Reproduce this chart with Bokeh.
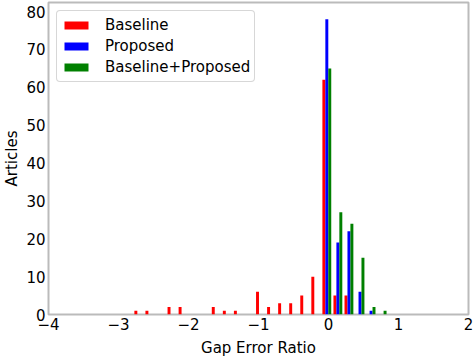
from bokeh.plotting import figure
from bokeh.models import ColumnDataSource, FixedTicker, Legend, LegendItem, Range1d
from bokeh.transform import dodge
from bokeh.embed import file_html
from bokeh.resources import INLINE

# ---- data ----
bin_centers = [-2.710, -2.552, -2.394, -2.236, -2.078, -1.920, -1.762, -1.604,
               -1.446, -1.288, -1.130, -0.972, -0.814, -0.656, -0.498, -0.340,
               -0.182, -0.024, 0.134, 0.292, 0.450, 0.608, 0.766]
baseline = [1, 1, 0, 2, 2, 0, 0, 2, 1, 1, 0, 6, 2, 3, 3, 5, 10, 62, 5, 5, 0, 0, 0]
proposed = [0, 0, 0, 0, 0, 0, 0, 0, 0, 0, 0, 0, 0, 0, 0, 0, 0, 78, 19, 22, 6, 1, 0]
combined = [0, 0, 0, 0, 0, 0, 0, 0, 0, 0, 0, 0, 0, 0, 0, 0, 0, 65, 27, 24, 15, 2, 1]
series_names = ["Baseline", "Proposed", "Baseline+Proposed"]
x_ticks = [-4, -3, -2, -1, 0, 1, 2]
x_tick_labels = ["\u22124", "\u22123", "\u22122", "\u22121", "0", "1", "2"]
y_ticks = [0, 10, 20, 30, 40, 50, 60, 70, 80]
bin_width = 0.158

source = ColumnDataSource(dict(x=bin_centers, b=baseline, p=proposed, c=combined))

p = figure(width=474, height=359, x_range=Range1d(-4, 2), y_range=Range1d(0, 82.4),
           output_backend="svg", toolbar_location=None,
           min_border_left=48, min_border_right=6, min_border_top=2, min_border_bottom=45)

bar_w = bin_width * 0.8 / 3
r1 = p.vbar(x=dodge('x', -bar_w), top='b', width=bar_w, source=source,
            fill_color="#ff0000", line_color=None)
r2 = p.vbar(x=dodge('x', 0), top='p', width=bar_w, source=source,
            fill_color="#0000ff", line_color=None)
r3 = p.vbar(x=dodge('x', bar_w), top='c', width=bar_w, source=source,
            fill_color="#008000", line_color=None)

legend = Legend(items=[LegendItem(label=series_names[0], renderers=[r1]),
                       LegendItem(label=series_names[1], renderers=[r2]),
                       LegendItem(label=series_names[2], renderers=[r3])])
legend.location = "top_left"
legend.margin = 8
legend.padding = 4
legend.spacing = 1
legend.label_height = 20
legend.glyph_height = 10
legend.glyph_width = 30
legend.label_standoff = 14
legend.label_text_font = "DejaVu Sans"
legend.label_text_font_size = "15px"
legend.label_text_color = "#000000"
legend.border_line_color = "#b0b0b0"
legend.border_line_width = 1.5
legend.border_radius = 4
legend.background_fill_alpha = 1.0
p.add_layout(legend)

p.xaxis.ticker = FixedTicker(ticks=x_ticks)
p.xaxis.major_label_overrides = {t: l for t, l in zip(x_ticks, x_tick_labels)}
p.yaxis.ticker = FixedTicker(ticks=y_ticks)

p.xaxis.axis_label = "Gap Error Ratio"
p.yaxis.axis_label = "Articles"
for ax in (p.xaxis, p.yaxis):
    ax.axis_label_text_font = "DejaVu Sans"
    ax.axis_label_text_font_size = "15px"
    ax.axis_label_text_font_style = "normal"
    ax.axis_label_text_color = "#000000"
    ax.major_label_text_font = "DejaVu Sans"
    ax.major_label_text_font_size = "15px"
    ax.major_label_text_color = "#000000"
    ax.major_label_standoff = 3
    ax.axis_line_color = None
    ax.major_tick_line_color = None
    ax.minor_tick_line_color = None
    ax.major_tick_out = 0
    ax.major_tick_in = 0
    ax.minor_tick_out = 0
    ax.minor_tick_in = 0
p.xaxis.axis_label_standoff = 6
p.yaxis.axis_label_standoff = 2

p.grid.visible = False
p.outline_line_color = "#bbbbbb"
p.outline_line_width = 2
p.background_fill_color = "white"
p.border_fill_color = "white"

open("out.html", "w").write(file_html(p, INLINE))
